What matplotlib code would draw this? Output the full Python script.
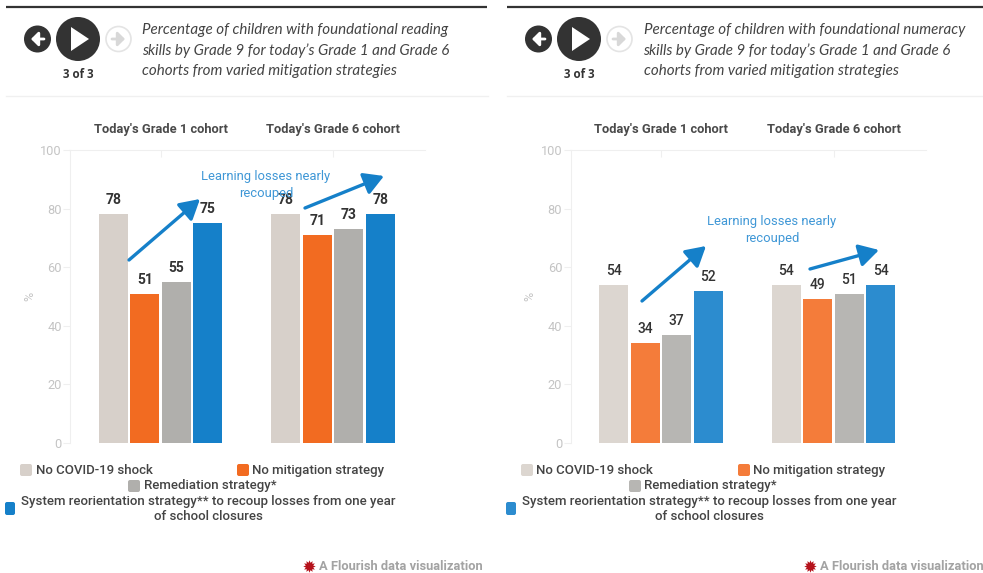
import numpy as np
import matplotlib
matplotlib.use('Agg')
import matplotlib.pyplot as plt
from matplotlib.patches import Circle, FancyBboxPatch, Polygon

plt.rcParams['font.family'] = ['Roboto', 'DejaVu Sans']

W, H = 983, 573

cohorts = ["Today's Grade 1 cohort", "Today's Grade 6 cohort"]
strategies = ['No COVID-19 shock', 'No mitigation strategy', 'Remediation strategy*', 'System reorientation']
reading = [[78, 51, 55, 75], [78, 71, 73, 78]]
numeracy = [[54, 34, 37, 52], [54, 49, 51, 54]]
reading_colors = ['#d7d0ca', '#f26b21', '#b0afac', '#1580c9']
numeracy_colors = ['#dcd6d0', '#f47c3a', '#b7b6b3', '#2c8ccf']
yticks = [0, 20, 40, 60, 80, 100]
titles = ["Percentage of children with foundational reading\nskills by Grade 9 for today\u2019s Grade 1 and Grade 6\ncohorts from varied mitigation strategies",
          "Percentage of children with foundational numeracy\nskills by Grade 9 for today\u2019s Grade 1 and Grade 6\ncohorts from varied mitigation strategies"]

DARK = '#333333'
LIGHT = '#efefef'

fig = plt.figure(figsize=(W / 100, H / 100), dpi=100, facecolor='white')


def make_axes(left):
    # axes box given in pixels, y=0 at 443 and y=100 at 150
    ax = fig.add_axes([left / W, 1 - 443 / H, 355 / W, 293 / H])
    ax.set_xlim(-0.525, 1.533)
    ax.set_ylim(0, 100)
    return ax


def draw_bars(ax, values, colors, weight):
    pitch = 0.1826
    for g, vals in enumerate(values):
        for i, v in enumerate(vals):
            x = g + (i - 1.5) * pitch
            ax.bar(x, v, width=0.168, color=colors[i], linewidth=0)
            ax.text(x, v + 2.4, str(v), ha='center', va='bottom', fontsize=10,
                    fontweight=weight, color=DARK)
    for s in ['right', 'bottom']:
        ax.spines[s].set_visible(False)
    for s in ['left', 'top']:
        ax.spines[s].set_color(LIGHT)
    ax.set_yticks(yticks)
    ax.tick_params(axis='y', length=5, color=LIGHT, labelcolor='#c4c4c4', labelsize=9.2, pad=1, direction='out')
    ax.set_xticks([0, 1])
    ax.xaxis.tick_top()
    ax.tick_params(axis='x', length=5, color=LIGHT, direction='in', labeltop=False)
    for g, c in enumerate(cohorts):
        ax.text(g, 107, c, ha='center', va='center', fontsize=9.25, fontweight='bold', color='#4a4a4a')
    ax.set_ylabel('%', color='#c4c4c4', fontsize=9, labelpad=3)


ax1 = make_axes(70)
draw_bars(ax1, reading, reading_colors, 'bold')
ax2 = make_axes(570.5)
draw_bars(ax2, numeracy, numeracy_colors, 'medium')

# overlay in pixel coordinates for header, legend, arrows
ov = fig.add_axes([0, 0, 1, 1], zorder=5)
ov.set_xlim(0, W)
ov.set_ylim(H, 0)
ov.axis('off')


def arrow(p0, p1):
    ov.annotate('', xy=p1, xytext=p0,
                arrowprops=dict(arrowstyle='-|>,head_length=0.7,head_width=0.4', color='#1580c9',
                                lw=2.4, shrinkA=0, shrinkB=0, mutation_scale=17))


def swatch(x, y, w=12, h=12, color='k'):
    ov.add_patch(FancyBboxPatch((x + 2, y + 2), w - 4, h - 4, boxstyle='round,pad=2', fc=color, ec='none'))


def panel(dx, title, colors):
    ov.plot([6 + dx, 487 + dx], [7, 7], color=DARK, lw=1.6, solid_capstyle='butt')
    ov.plot([6 + dx, 488 + dx], [96, 96], color='#f0f0f0', lw=1)
    # play controls
    ov.add_patch(Circle((37.5 + dx, 39), 13.5, fc=DARK, ec='none'))
    ov.add_patch(Circle((78 + dx, 39), 22, fc=DARK, ec='none'))
    ov.add_patch(Polygon([(71 + dx, 27), (71 + dx, 51), (89 + dx, 39)], fc='white', ec='none'))
    ov.annotate('', xy=(31 + dx, 39), xytext=(44 + dx, 39),
                arrowprops=dict(arrowstyle='-|>,head_length=0.3,head_width=0.3', color='white', lw=2,
                                shrinkA=0, shrinkB=0, mutation_scale=14))
    ov.add_patch(Circle((118.5 + dx, 39), 12.5, fc='white', ec='#e4e4e4', lw=1.2))
    ov.annotate('', xy=(125 + dx, 39), xytext=(112 + dx, 39),
                arrowprops=dict(arrowstyle='-|>,head_length=0.3,head_width=0.3', color='#d8d8d8', lw=2,
                                shrinkA=0, shrinkB=0, mutation_scale=14))
    ov.text(78.5 + dx, 74, '3 of 3', ha='center', va='center', fontsize=8.3, fontweight='bold',
            color=DARK, family=['Open Sans', 'DejaVu Sans'])
    ov.text(142.5 + dx, 50.5, title, ha='left', va='center', fontsize=10.9, style='italic', color='#444444',
            family=['Lato', 'DejaVu Sans'], linespacing=1.54)
    # legend
    swatch(20 + dx, 464, color=colors[0])
    ov.text(35.5 + dx, 470.5, strategies[0], va='center', fontsize=9.55, fontweight='medium', color='#444444')
    swatch(237 + dx, 464, color=colors[1])
    ov.text(252 + dx, 470.5, strategies[1], va='center', fontsize=9.55, fontweight='medium', color='#444444')
    swatch(128 + dx, 480, color=colors[2])
    ov.text(143.5 + dx, 486, strategies[2], va='center', fontsize=9.55, fontweight='medium', color='#444444')
    swatch(5 + dx, 502, w=10, h=13, color=colors[3])
    ov.text(208.5 + dx, 509, 'System reorientation strategy** to recoup losses from one year\nof school closures',
            ha='center', va='center', fontsize=9.55, fontweight='medium', color='#444444', linespacing=1.2)
    # flourish credit
    star = np.linspace(0, 2 * np.pi, 24, endpoint=False)
    r = np.where(np.arange(24) % 2 == 0, 6.2, 3.8)
    ov.add_patch(Polygon(np.c_[309.5 + dx + r * np.cos(star), 566.5 + r * np.sin(star)], fc='#b5121b', ec='none'))
    ov.text(319 + dx, 566.5, 'A Flourish data visualization', va='center', fontsize=9.3, fontweight='bold',
            color='#a3a3a3')


panel(0, titles[0], reading_colors)
panel(501, titles[1], numeracy_colors)

# annotations
ov.text(266, 185, 'Learning losses nearly\nrecouped', ha='center', va='center', fontsize=9.4,
        color='#3f97d6', linespacing=1.35, zorder=6)
arrow((129, 260), (200, 199))
arrow((305, 208), (384, 176))
ov.text(772, 230, 'Learning losses nearly\nrecouped', ha='center', va='center', fontsize=9.4,
        color='#3f97d6', linespacing=1.35)
arrow((642, 301), (706, 246))
arrow((810, 269), (879, 250))

fig.savefig('out.png', dpi=100)
